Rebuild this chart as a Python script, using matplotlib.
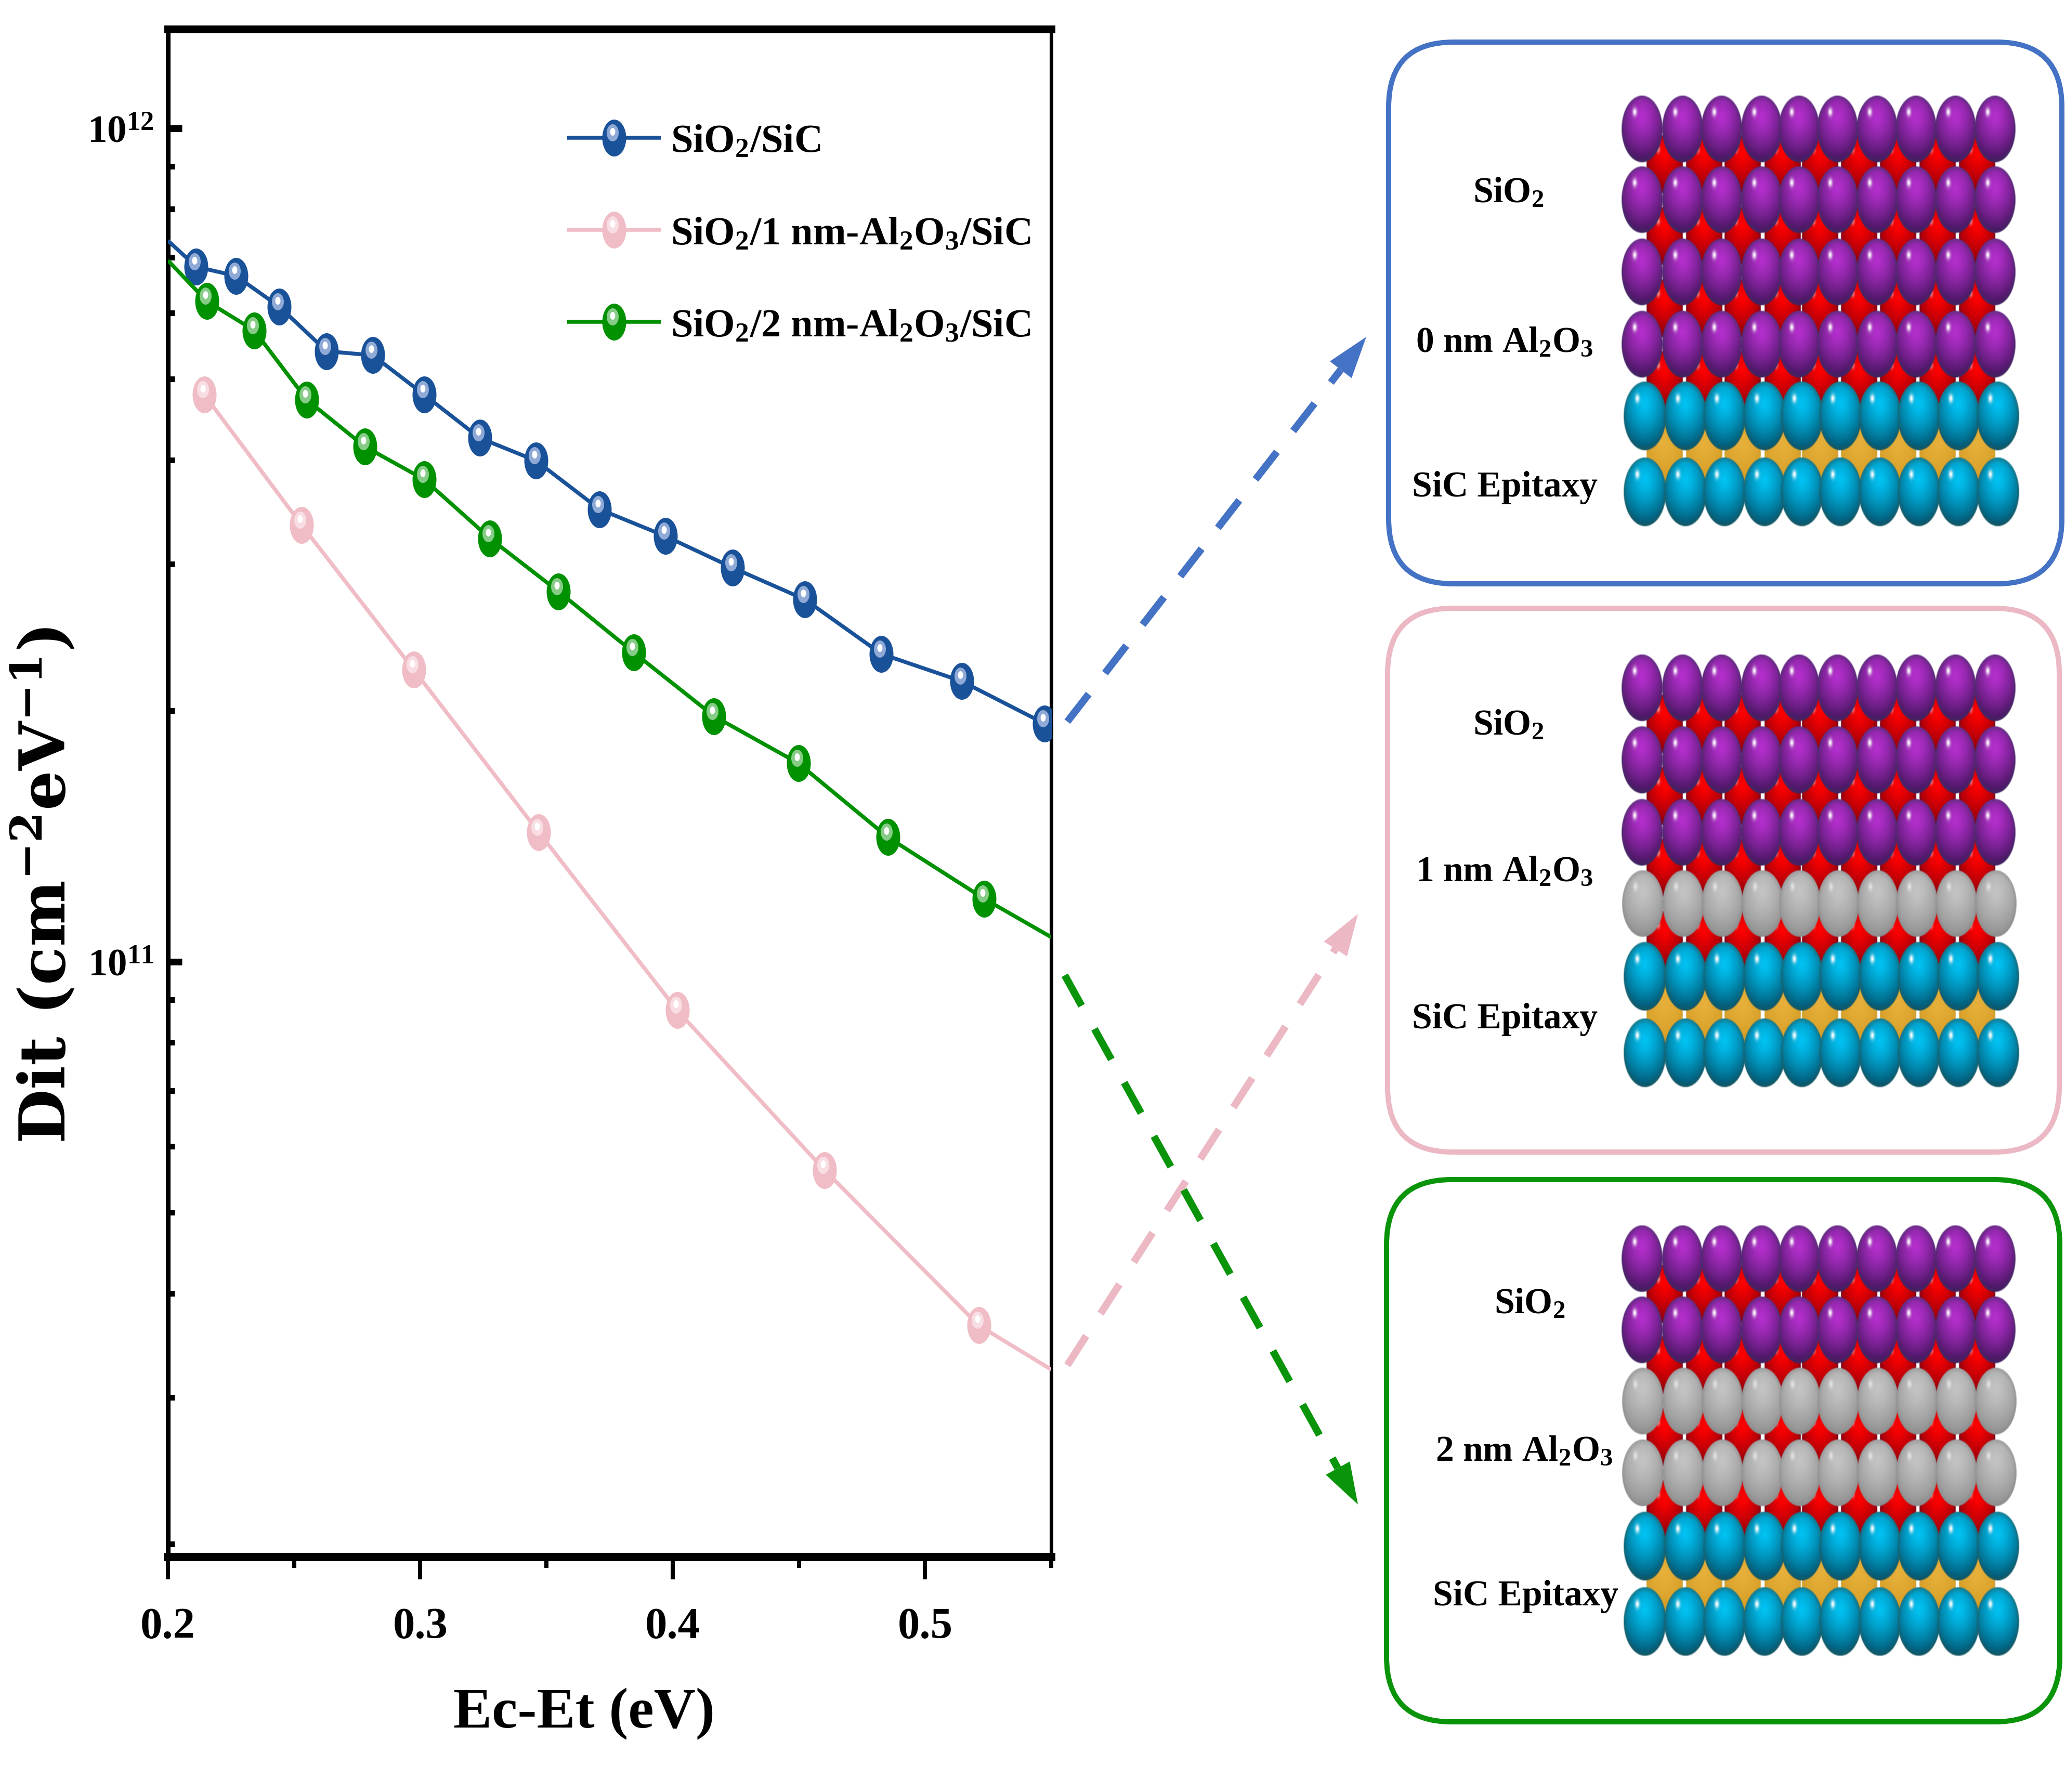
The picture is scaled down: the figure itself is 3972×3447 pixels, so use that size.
import numpy as np
import matplotlib
matplotlib.use("Agg")
import matplotlib.pyplot as plt
from matplotlib.markers import MarkerStyle
from matplotlib.patches import FancyBboxPatch, FancyArrowPatch
from matplotlib.ticker import LogLocator, NullFormatter, MultipleLocator, FormatStrFormatter
from matplotlib.transforms import Affine2D
from matplotlib.legend_handler import HandlerTuple

# ---- data ----
blue_x = [0.2, 0.2112, 0.2269, 0.2441, 0.2629, 0.2812, 0.3015, 0.3235, 0.3459, 0.3710, 0.3971, 0.4237, 0.4524, 0.4827, 0.5145, 0.5474]
blue_y = [7.33e11, 6.82e11, 6.65e11, 6.11e11, 5.40e11, 5.34e11, 4.79e11, 4.25e11, 3.99e11, 3.49e11, 3.24e11, 2.97e11, 2.72e11, 2.34e11, 2.17e11, 1.93e11]
pink_x = [0.2144, 0.2530, 0.2974, 0.3469, 0.4018, 0.4602, 0.5213, 0.55]
pink_y = [4.79e11, 3.34e11, 2.24e11, 1.43e11, 8.74e10, 5.62e10, 3.66e10, 3.24e10]
green_x = [0.2, 0.2154, 0.2342, 0.2551, 0.2780, 0.3015, 0.3276, 0.3548, 0.3845, 0.4164, 0.4498, 0.4853, 0.5234, 0.55]
green_y = [6.94e11, 6.20e11, 5.72e11, 4.72e11, 4.15e11, 3.79e11, 3.22e11, 2.78e11, 2.35e11, 1.97e11, 1.73e11, 1.41e11, 1.19e11, 1.07e11]
labels = ["SiO$_2$/SiC", "SiO$_2$/1 nm-Al$_2$O$_3$/SiC", "SiO$_2$/2 nm-Al$_2$O$_3$/SiC"]

panel_rows = [
    ["P", "P", "P", "P", "C", "C"],
    ["P", "P", "P", "G", "C", "C"],
    ["P", "P", "G", "G", "C", "C"],
]
panel_row_y = [
    [249, 385, 524, 663, 801, 947],
    [1324, 1463, 1602, 1739, 1879, 2026],
    [2422, 2559, 2696, 2834, 2975, 3120],
]
panel_text = [
    [("SiO$_2$", 2901, 372), ("0 nm Al$_2$O$_3$", 2894, 659), ("SiC Epitaxy", 2894, 938)],
    [("SiO$_2$", 2901, 1396), ("1 nm Al$_2$O$_3$", 2894, 1677), ("SiC Epitaxy", 2894, 1961)],
    [("SiO$_2$", 2942, 2509), ("2 nm Al$_2$O$_3$", 2932, 2792), ("SiC Epitaxy", 2934, 3071)],
]
panel_box = [(2671, 82, 3966, 1124), (2669, 1171, 3961, 2217), (2667, 2270, 3962, 3313)]
ball_x = [3158, 3236, 3311, 3388, 3460, 3534, 3610, 3685, 3761, 3837]
inter_x = [3198, 3274, 3348, 3425, 3497, 3572, 3647, 3723, 3799]

c_blue, c_pink, c_green = "#1A5299", "#F0BCC6", "#009100"
box_cols = ["#4472C4", "#EBB8C3", "#0A940A"]
arrows = [((2053, 1389), (2628, 649), "#4472C4"),
          ((2053, 2627), (2612, 1759), "#EBB8C3"),
          ((2048, 1877), (2612, 2895), "#0A940A")]

plt.rcParams["font.family"] = "Liberation Serif"
plt.rcParams["font.weight"] = "bold"
plt.rcParams["mathtext.default"] = "regular"
plt.rcParams["lines.scale_dashes"] = False

W, H = 3973, 3448
PT = 0.72  # points per pixel at dpi 100
fig = plt.figure(figsize=(W / 100, H / 100), dpi=100, facecolor="white")

L, R, T, B = 323, 2022, 57, 2996
ax = fig.add_axes([L / W, 1 - B / H, (R - L) / W, (B - T) / H])
ax.set_xscale("linear")
ax.set_yscale("log")


def ell(sx, sy, dx=0.0, dy=0.0):
    return MarkerStyle("o", transform=Affine2D().scale(sx, sy).translate(dx, dy))


def series(x, y, col, ring, every):
    ms = 50 * PT
    ln, = ax.plot(x, y, color=col, lw=7.5 * PT, marker=ell(0.92, 1.42), ms=ms, mew=0, markevery=every,
                  solid_capstyle="butt", zorder=3)
    r, = ax.plot(x, y, ls="none", marker=ell(0.46, 0.66, -0.06, 0.2), ms=ms, mew=0, color=ring, markevery=every, zorder=4)
    h, = ax.plot(x, y, ls="none", marker=ell(0.2, 0.3, -0.06, 0.24), ms=ms, mew=0, color="white", markevery=every, zorder=5)
    return (ln, r, h)


h1 = series(blue_x, blue_y, c_blue, "#8FAAD6", slice(1, None))
h2 = series(pink_x, pink_y, c_pink, "#F8DEE3", slice(0, -1))
h3 = series(green_x, green_y, c_green, "#86CC86", slice(1, -1))

ax.set_xlim(0.2, 0.55)
ax.set_ylim(1.93e10, 1.315e12)
ax.xaxis.set_major_locator(MultipleLocator(0.1))
ax.xaxis.set_minor_locator(MultipleLocator(0.05))
ax.xaxis.set_major_formatter(FormatStrFormatter("%.1f"))
ax.yaxis.set_major_locator(LogLocator(base=10, numticks=6))
ax.yaxis.set_minor_locator(LogLocator(base=10, subs=np.arange(2, 10), numticks=12))
ax.yaxis.set_minor_formatter(NullFormatter())
ax.tick_params(axis="x", which="major", direction="out", length=43 * PT, width=8 * PT, labelsize=61, pad=38)
ax.tick_params(axis="x", which="minor", direction="out", length=21 * PT, width=8 * PT)
ax.tick_params(axis="y", which="major", direction="in", length=27 * PT, width=13 * PT, labelsize=54, pad=27 * PT)
ax.tick_params(axis="y", which="minor", direction="in", length=13 * PT, width=11 * PT)
for side, w in (("left", 9), ("right", 7), ("top", 15), ("bottom", 16)):
    ax.spines[side].set_linewidth(w * PT)

ax.set_xlabel("Ec-Et (eV)", fontsize=80, fontweight="bold")
ax.xaxis.set_label_coords(0.471, -0.0855)
ax.set_ylabel("Dit (cm$^{-2}$eV$^{-1}$)", fontsize=87, family="DejaVu Serif", fontweight="bold")
ax.yaxis.set_label_coords(-0.1015, 0.44)

leg = ax.legend([h1, h2, h3], labels, handler_map={tuple: HandlerTuple(ndivide=1, pad=0)},
                loc="upper left", bbox_to_anchor=(0.452, 0.938), frameon=False, fontsize=55,
                borderpad=0, borderaxespad=0, labelspacing=1.41, handlelength=2.36, handletextpad=0.24)

# ---- overlay in pixel coordinates for the schematic panels ----
ov = fig.add_axes([0, 0, 1, 1], facecolor="none", zorder=5)
ov.axis("off")


def sprite(bright, dark, edge, spec=1.0, n=96):
    bright, dark, edge = [np.array(matplotlib.colors.to_rgb(c)) for c in (bright, dark, edge)]
    v, u = np.mgrid[-1:1:n * 1j, -1:1:n * 1j]
    r = np.hypot(u, v)
    d = np.clip(np.hypot(u, v + 0.35) / 1.35, 0, 1)[..., None]
    rgb = bright * (1 - d ** 1.3) + dark * d ** 1.3
    e = np.clip((r - 0.82) / 0.18, 0, 1)[..., None] * 0.55
    rgb = rgb * (1 - e) + edge * e
    g = spec * np.exp(-(((u + 0.35) / 0.1) ** 2 + ((v + 0.5) / 0.12) ** 2))[..., None]
    rgb = rgb * (1 - g) + g
    a = np.clip((1 - r) / 0.04, 0, 1)
    return np.dstack([np.clip(rgb, 0, 1), a])


SPR = {
    "P": (sprite("#B52FCE", "#3C1456", "#43386A"), 81, 132, 0),
    "C": (sprite("#00C3F4", "#034E68", "#2B5E5C"), 84, 136, 6),
    "G": (sprite("#C4C4C4", "#8E8E8E", "#8A8A8A", spec=0.6), 82, 132, 2),
    "R": (sprite("#FF0000", "#7A0010", "#60102A", spec=0.6), 72, 116, 0),
    "Y": (sprite("#E6B03A", "#D39A22", "#C9A03A", spec=0.3), 72, 116, 0),
}


def ball(kind, cx, cy):
    im, w, h, dx = SPR[kind]
    cx += dx
    ov.imshow(im, extent=(cx - w / 2, cx + w / 2, cy + h / 2, cy - h / 2), aspect="auto",
              interpolation="bilinear", zorder=3, clip_on=False)


for rows, ys, txt, box, col in zip(panel_rows, panel_row_y, panel_text, panel_box, box_cols):
    ov.add_patch(FancyBboxPatch((box[0], box[1]), box[2] - box[0], box[3] - box[1],
                                boxstyle="round,pad=0,rounding_size=125", fc="white", ec=col, lw=10 * PT, zorder=1))
    for i in range(len(rows) - 1):
        kind = "Y" if rows[i] == "C" and rows[i + 1] == "C" else "R"
        for xc in inter_x:
            ball(kind, xc + 4, (ys[i] + ys[i + 1]) / 2)
    for kind, yc in zip(rows, ys):
        for xc in ball_x:
            ball(kind, xc, yc)
    for s, xc, yc in txt:
        ov.text(xc, yc, s, ha="center", va="center", fontsize=50, fontweight="bold", color="black", zorder=6)

for (x0, y0), (x1, y1), col in arrows:
    ang = np.hypot(x1 - x0, y1 - y0)
    bx, by = x1 - (x1 - x0) / ang * 80, y1 - (y1 - y0) / ang * 80
    ov.plot([x0, bx], [y0, by], color=col, lw=14 * PT, dashes=(67 * PT, 51 * PT), dash_capstyle="butt", zorder=2)
    ov.add_patch(FancyArrowPatch((bx, by), (x1, y1), arrowstyle="-|>,head_length=1.0,head_width=0.33",
                                 mutation_scale=80 * PT, color=col, lw=0, shrinkA=0, shrinkB=0, zorder=2))

ov.set_xlim(0, W)
ov.set_ylim(H, 0)

fig.savefig("out.png", dpi=100, facecolor="white")
